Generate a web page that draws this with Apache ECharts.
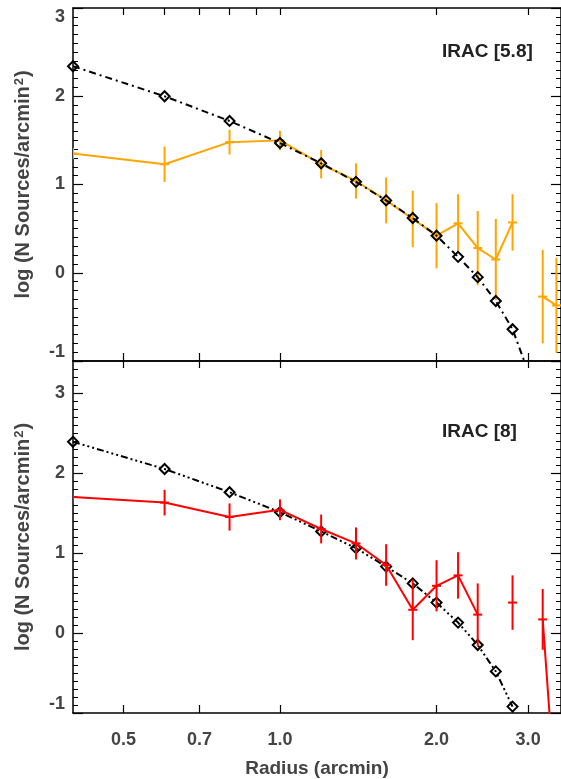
<!DOCTYPE html>
<html><head><meta charset="utf-8">
<script src="https://cdn.jsdelivr.net/npm/echarts@6/dist/echarts.min.js"></script>
<style>html,body{margin:0;padding:0;background:#fff}#c{width:561px;height:779px}</style>
</head><body><div id="c"></div>
<script>
// ---- data ----
const radius  = [0.4, 0.6, 0.8, 1.0, 1.2, 1.4, 1.6, 1.8, 2.0, 2.2, 2.4, 2.6, 2.8, 3.0, 3.2, 3.4];
const model58 = [2.34, 2.00, 1.72, 1.47, 1.24, 1.03, 0.82, 0.62, 0.42, 0.18, -0.05, -0.32, -0.64, -1.12, null, null];
const irac58  = [1.35, 1.23, 1.48, 1.50, 1.23, 1.04, 0.82, 0.61, 0.42, 0.56, 0.28, 0.15, 0.57, null, -0.27, -0.37];
const err58   = [0.06, 0.20, 0.14, 0.11, 0.16, 0.20, 0.26, 0.32, 0.37, 0.33, 0.42, 0.46, 0.32, null, 0.53, 0.54];
const model8  = [2.39, 2.05, 1.76, 1.51, 1.27, 1.06, 0.83, 0.62, 0.38, 0.13, -0.15, -0.48, -0.92, null, null, null];
const irac8   = [1.70, 1.63, 1.45, 1.54, 1.30, 1.12, 0.85, 0.29, 0.59, 0.72, 0.23, null, 0.38, null, 0.17, -2.20];
const err8    = [0.07, 0.16, 0.17, 0.13, 0.18, 0.20, 0.26, 0.38, 0.32, 0.29, 0.39, null, 0.34, null, 0.38, 0.40];
const xTickLabels = [0.5, 0.7, 1.0, 2.0, 3.0];
const xTicksTop   = [0.5, 0.6, 0.7, 0.8, 0.9, 1.0, 2.0, 3.0];
const yMajorTicks = [-1, 0, 1, 2, 3];
const panelLabels = ['IRAC [5.8]', 'IRAC [8]'];
const xName = 'Radius (arcmin)';
const yName = 'log (N Sources/arcmin{sup|2})';

// ---- chart ----
const chart = echarts.init(document.getElementById('c'), null, {renderer: 'canvas'});
const FONT = '"Liberation Sans", Arial, Helvetica, sans-serif';
const LABEL_COLOR = '#444';
const AXIS_LINE = {show: true, onZero: false, lineStyle: {color: '#000', width: 1.5}};

const panels = [
  {top: 8, height: 353, ymax: 3, model: model58, data: irac58, err: err58, color: '#FFA500', dash: [7, 4, 2, 4]},
  {top: 361, height: 352, ymax: 3.4, model: model8, data: irac8, err: err8, color: '#FF0000', dash: [7, 3, 2, 3, 2, 3, 2, 3]}
];

const grid = [], xAxis = [], yAxis = [], series = [], title = [];

panels.forEach((p, gi) => {
  grid.push({left: 73, top: p.top, width: 488, height: p.height, containLabel: false, outerBoundsMode: 'none'});
  const isBottom = gi === panels.length - 1;
  const xBase = {
    type: 'log', logBase: 10, gridIndex: gi, min: 0.4, max: 3.47,
    axisLine: AXIS_LINE, splitLine: {show: false}, minorTick: {show: false}
  };
  // bottom x axis
  xAxis.push(Object.assign({}, xBase, {
    position: 'bottom',
    axisTick: {show: true, inside: true, length: 8, customValues: xTickLabels, lineStyle: {color: '#000', width: 1.2}},
    axisLabel: isBottom ? {
      show: true, customValues: xTickLabels, margin: 18,
      formatter: v => Number(v).toFixed(1),
      fontFamily: FONT, fontWeight: 'bold', fontSize: 18, color: LABEL_COLOR
    } : {show: false},
    name: isBottom ? xName : '', nameLocation: 'middle', nameGap: 46,
    nameTextStyle: {fontFamily: FONT, fontWeight: 'bold', fontSize: 19, color: LABEL_COLOR}
  }));
  // top x axis
  xAxis.push(Object.assign({}, xBase, {
    position: 'top',
    axisTick: {show: true, inside: true, length: 7, customValues: gi === 0 ? xTicksTop : xTickLabels, lineStyle: {color: '#000', width: 1.2}},
    axisLabel: {show: false}
  }));
  p.xIndex = xAxis.length - 2;

  const yBase = {
    type: 'value', gridIndex: gi, min: -1, max: p.ymax, interval: 1,
    splitLine: {show: false}, minorSplitLine: {show: false},
    axisLine: AXIS_LINE,
    axisTick: {show: true, inside: true, length: 10, lineStyle: {color: '#000', width: 1.2}},
    minorTick: {show: true, splitNumber: 10, length: 5, lineStyle: {color: '#000', width: 1}}
  };
  // left axis (labels + name)
  yAxis.push(Object.assign({}, yBase, {
    position: 'left',
    axisLabel: {
      show: true, customValues: yMajorTicks, margin: 8,
      verticalAlignMinLabel: 'bottom', verticalAlignMaxLabel: gi === 0 ? 'top' : 'middle',
      fontFamily: FONT, fontWeight: 'bold', fontSize: 18, color: LABEL_COLOR
    },
    name: yName, nameLocation: 'middle', nameGap: 40, nameRotate: 90,
    nameTextStyle: {
      fontFamily: FONT, fontWeight: 'bold', fontSize: 20, color: LABEL_COLOR,
      rich: {sup: {fontFamily: FONT, fontWeight: 'bold', fontSize: 13, color: LABEL_COLOR, verticalAlign: 'top', padding: [0, 1, 0, 1]}}
    }
  }));
  p.yIndex = yAxis.length - 1;
  // right axis (ticks only)
  yAxis.push(Object.assign({}, yBase, {position: 'right', axisLabel: {show: false}}));

  // model curve (black, diamonds)
  series.push({
    type: 'line', xAxisIndex: p.xIndex, yAxisIndex: p.yIndex,
    data: radius.map((r, i) => [r, p.model[i] == null ? '-' : p.model[i]]),
    connectNulls: false, clip: true, z: gi === 0 ? 4 : 2,
    lineStyle: {color: '#000', width: 2, type: p.dash, cap: 'butt'},
    symbol: 'diamond', symbolSize: 10,
    itemStyle: {color: 'rgba(255,255,255,0)', borderColor: '#000', borderWidth: 2},
    emphasis: {disabled: true}, animation: false
  });
  // observed data line
  series.push({
    type: 'line', xAxisIndex: p.xIndex, yAxisIndex: p.yIndex,
    data: radius.map((r, i) => [r, p.data[i] == null ? '-' : p.data[i]]),
    connectNulls: false, clip: true, z: 3,
    lineStyle: {color: p.color, width: 2},
    symbol: 'none', emphasis: {disabled: true}, animation: false
  });
  // error bars with "+" marks
  const col = p.color;
  series.push({
    type: 'custom', xAxisIndex: p.xIndex, yAxisIndex: p.yIndex, clip: true, z: 3,
    data: radius.map((r, i) => [r, p.data[i], p.err[i]]).filter(d => d[1] != null),
    encode: {x: 0, y: 1},
    renderItem: function (params, api) {
      const x = api.value(0), y = api.value(1), e = api.value(2);
      const c = api.coord([x, y]);
      const t = api.coord([x, y + e]);
      const b = api.coord([x, y - e]);
      return {type: 'group', children: [
        {type: 'line', shape: {x1: c[0], y1: t[1], x2: c[0], y2: b[1]}, style: {stroke: col, lineWidth: 2}},
        {type: 'line', shape: {x1: c[0] - 4.5, y1: c[1], x2: c[0] + 4.5, y2: c[1]}, style: {stroke: col, lineWidth: 2}}
      ]};
    },
    animation: false
  });

  title.push({
    text: panelLabels[gi], left: 437, top: gi === 0 ? 37 : 417,
    textStyle: {fontFamily: FONT, fontWeight: 'bold', fontSize: 19, color: '#222'}
  });
});

chart.setOption({animation: false, backgroundColor: '#fff', title, grid, xAxis, yAxis, series});
</script>
</body></html>
